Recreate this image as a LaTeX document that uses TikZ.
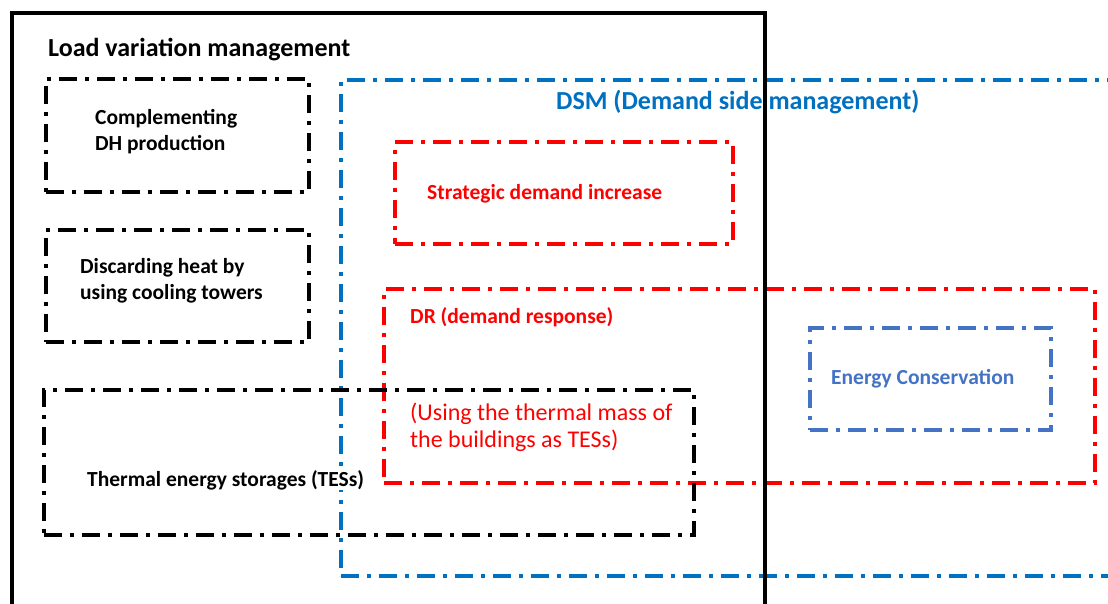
\documentclass[tikz,border=0pt]{standalone}
\usepackage{fontspec}
\setmainfont{Carlito}
\usetikzlibrary{positioning}
\definecolor{dsm-color}{HTML}{0070C0}
\definecolor{ec-color}{HTML}{4472C4}
\definecolor{dr-color}{HTML}{FF0000}
\tikzset{dashdot/.style={dash pattern=on 18pt off 8pt on 4pt off 8pt}}

\begin{document}
\begin{tikzpicture}[x=1pt, y=-1pt,
                every node/.append style={align=left, inner sep=0pt},
                box/.style={draw, dashdot, line width=3.5pt, minimum width=#1, anchor=north west},
                lbl/.style={anchor=west, font=\fontsize{21.5}{26}\selectfont\bfseries}]
   \useasboundingbox (0,0) rectangle (1108,603);

   % demand side management
   \node [box=790pt, minimum height=496pt, draw=dsm-color, line width=3.5pt] (dsm) at (339,78) {};
   \node [anchor=west, font=\fontsize{26}{30}\selectfont\bfseries, text=dsm-color] (dsmt) at (556,102) {DSM (Demand side management)};

   \node [box=338pt, minimum height=102pt, draw=dr-color] (sdi) at (393,140) {};
   \node [lbl, text=dr-color] (sdit) at (427,194) {Strategic demand increase};
   \node [box=711pt, minimum height=194pt, draw=dr-color] (dr) at (382,287) {};
   \node [lbl, text=dr-color] (drt) at (410,317) {DR (demand response)};
   \node [lbl, font=\fontsize{24}{27}\selectfont, text=dr-color] (mass) at (410,427) {(Using the thermal mass of\\the buildings as TESs)};

   \node [box=241pt, minimum height=102pt, draw=ec-color] (ec) at (808,326) {};
   \node [lbl, text=ec-color] (ect) at (831,379) {Energy Conservation};

   % load variation management
   \draw[line width=4pt] (12,625) |- (765,13) -- (765,625);
   \node [anchor=west, font=\fontsize{26}{30}\selectfont\bfseries] (lvm) at (48,50) {Load variation management};

   \node [box=263pt, minimum height=113pt] (comp) at (44,77) {};
   \node [lbl] (compt) at (95,132) {Complementing\\DH production};
   \node [box=263pt, minimum height=112pt] (disc) at (44,228) {};
   \node [lbl] (disct) at (80,281) {Discarding heat by\\using cooling towers};
   \node [box=650pt, minimum height=145pt] (tes) at (42,388) {};
   \node [lbl, fill=white] (test) at (87,480) {Thermal energy storages (TESs)};
\end{tikzpicture}
\end{document}
